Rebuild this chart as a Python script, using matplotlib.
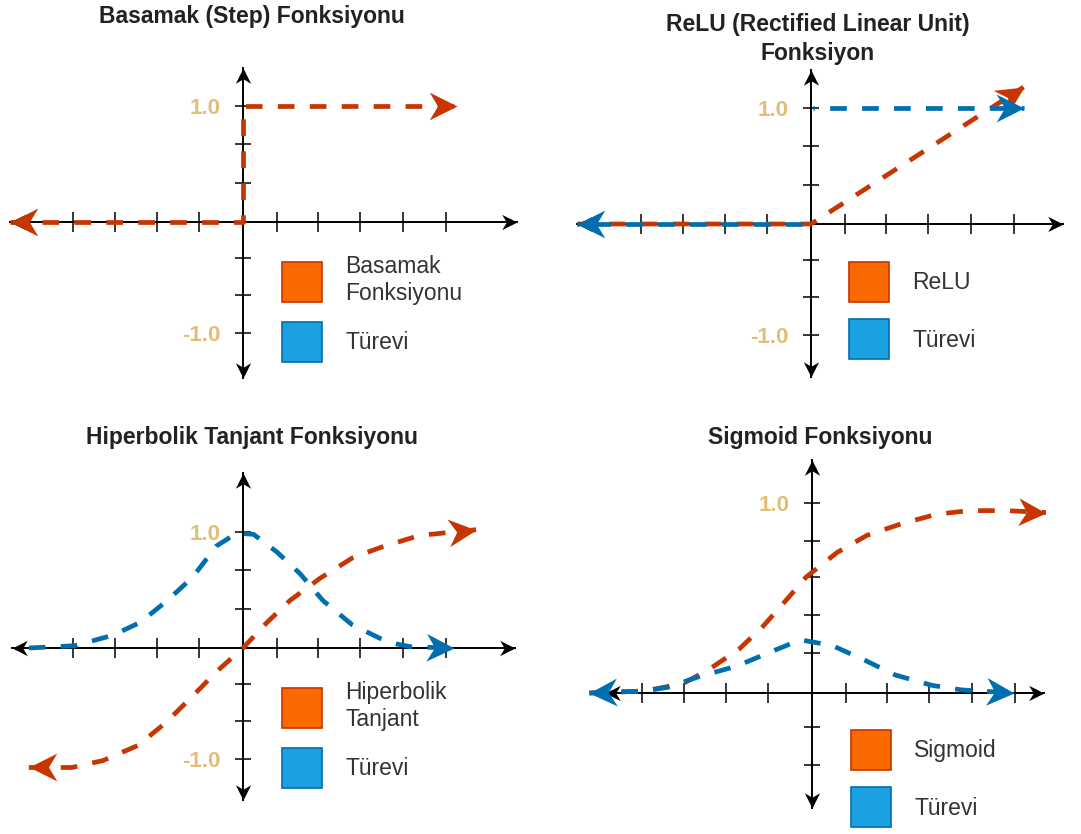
import numpy as np
import matplotlib
matplotlib.use('Agg')

from matplotlib import pyplot as plt
from matplotlib.markers import MarkerStyle
from matplotlib.path import Path
from matplotlib.patches import Patch
from matplotlib.transforms import Affine2D

plt.rcParams['font.family'] = ['Liberation Sans', 'DejaVu Sans']
plt.rcParams['lines.scale_dashes'] = False

W, H = 1081, 834
RED = '#c73500'
BLUE = '#006eaf'
ORANGE_FILL = '#fa6800'
BLUE_FILL = '#1ba1e2'
TAN = '#e2bd78'
TEXT = '#333333'

# --- data (x in tick units, y in function units) ---
x_ticks = [-4.05, -3.05, -2.05, -1.05, 0.8, 1.78, 2.78, 3.8, 4.83]
y_ticks = [-0.96, -0.63, -0.31, 0.34, 0.67, 1.0]
y_tick_labels = ['-1.0', '', '', '', '', '1.0']
sig_y_ticks = [-0.38, -0.18, 0.21, 0.41, 0.61, 0.8, 1.0]
sig_y_tick_labels = ['', '', '', '', '', '', '1.0']

step_x = [-5.55, 0, 0, 5.1]
step_y = [0, 0, 1.0, 1.0]

relu_x = [-5.57, 0, 5.06]
relu_y = [0, 0, 1.18]
relu_d_x = [-5.57, 0, np.nan, 0.05, 5.07]
relu_d_y = [0, 0, np.nan, 1.0, 1.0]

tanh_x = [-5.1, -4.07, -3.33, -2.5, -1.86, -1.24, -0.62, 0, 0.57, 1.12, 1.83, 2.62, 3.3, 4.2, 5.55]
tanh_y = [-1.03, -1.03, -0.97, -0.84, -0.65, -0.43, -0.2, 0, 0.22, 0.41, 0.6, 0.78, 0.87, 0.97, 1.02]
tanh_d_x = [-5.1, -4.0, -3.1, -2.45, -1.8, -1.2, -0.63, -0.15, 0.25, 0.8, 1.36, 1.9, 2.6, 3.45, 4.0, 5.02]
tanh_d_y = [0, 0.02, 0.11, 0.22, 0.41, 0.61, 0.88, 0.99, 0.98, 0.83, 0.64, 0.41, 0.2, 0.05, 0.01, 0]

sig_x = [-5.3, -4.0, -3.07, -2.48, -1.74, -1.17, -0.57, -0.14, 0.6, 1.31, 2.12, 2.95, 3.74, 4.6, 5.57]
sig_y = [0, 0.01, 0.05, 0.12, 0.23, 0.35, 0.5, 0.61, 0.74, 0.83, 0.89, 0.94, 0.96, 0.96, 0.95]
sig_d_x = [-5.3, -4.0, -3.43, -2.64, -1.81, -1.05, -0.28, 0.48, 1.28, 1.98, 2.86, 3.57, 4.8]
sig_d_y = [0, 0.01, 0.03, 0.09, 0.14, 0.21, 0.28, 0.25, 0.17, 0.095, 0.04, 0.016, 0]

fig = plt.figure(figsize=(W / 100, H / 100), dpi=100)

HEAD = Path([(0, 0), (-1, 0.5), (-0.7, 0), (-1, -0.5), (0, 0)],
            [Path.MOVETO, Path.LINETO, Path.LINETO, Path.LINETO, Path.CLOSEPOLY])


def head(ax, xs, ys, color, size=40, end=-1):
    # arrow head at the end of a line, pointing along its last segment on screen
    i = end
    j = end - 1 if end < 0 else end + 1
    p = ax.transData.transform([(xs[j], ys[j]), (xs[i], ys[i])])
    ang = np.degrees(np.arctan2(p[1, 1] - p[0, 1], p[1, 0] - p[0, 0]))
    m = MarkerStyle(HEAD, transform=Affine2D().rotate_deg(ang))
    ax.plot([xs[i]], [ys[i]], marker=m, ms=size, color=color, mec=color, mew=0,
            ls='none', clip_on=False, zorder=6)


def dashed(ax, xs, ys, color, offset=0):
    ax.plot(xs, ys, color=color, lw=3.4, ls=(offset, (12, 11)),
            dash_capstyle='butt', solid_joinstyle='round', zorder=4)


def panel(box, origin, sy, xb, yb, yt, ylabels):
    x0, y0, x1, y1 = box
    ox, oy = origin
    sx = 42.0
    ax = fig.add_axes([x0 / W, 1 - y1 / H, (x1 - x0) / W, (y1 - y0) / H])
    ax.set_xlim((x0 - ox) / sx, (x1 - ox) / sx)
    ax.set_ylim((oy - y1) / sy, (oy - y0) / sy)
    ax.patch.set_visible(False)
    for s in ['top', 'right']:
        ax.spines[s].set_visible(False)
    ax.spines['left'].set_position(('data', 0))
    ax.spines['bottom'].set_position(('data', 0))
    ax.spines['bottom'].set_bounds(*xb)
    ax.spines['left'].set_bounds(*yb)
    for s in ['left', 'bottom']:
        ax.spines[s].set_linewidth(1.4)
    ax.set_xticks(x_ticks)
    ax.set_xticklabels([])
    ax.set_yticks(yt)
    ax.set_yticklabels(ylabels)
    ax.tick_params(axis='x', direction='inout', length=14, width=1.1)
    ax.tick_params(axis='y', direction='inout', length=12, width=1.1,
                   labelsize=16, labelcolor=TAN, pad=10)
    for lab in ax.get_yticklabels():
        lab.set_fontweight('bold')
    # axis arrows
    head(ax, [0, xb[1]], [0, 0], 'black', 22)
    head(ax, [0, xb[0]], [0, 0], 'black', 22)
    head(ax, [0, 0], [0, yb[1]], 'black', 22)
    head(ax, [0, 0], [0, yb[0]], 'black', 22)
    return ax


def legend(ax, labels, anchor):
    handles = [Patch(facecolor=ORANGE_FILL, edgecolor=RED, lw=1.2, label=labels[0]),
               Patch(facecolor=BLUE_FILL, edgecolor=BLUE, lw=1.2, label=labels[1])]
    ax.legend(handles=handles, loc='upper left', bbox_to_anchor=anchor, frameon=False,
              fontsize=16.5, handlelength=1.75, handleheight=2.31, handletextpad=1.0,
              labelspacing=0.76, borderpad=0, borderaxespad=0, labelcolor=TEXT)


# Basamak (Step)
ax1 = panel((0, 0, 540, 417), (243, 222), 116, (-5.55, 6.52), (-1.345, 1.33), y_ticks, y_tick_labels)
dashed(ax1, step_x, step_y, RED)
head(ax1, step_x, step_y, RED)
head(ax1, step_x, step_y, RED, end=0)
legend(ax1, ['Basamak\nFonksiyonu', 'Türevi'], (282 / 540, 1 - 255 / 417))
fig.text(252 / W, 1 - 17 / H, 'Basamak (Step) Fonksiyonu', ha='center', va='center',
         fontsize=16.5, fontweight='bold', color='#222222')

# ReLU
ax2 = panel((540, 0, 1081, 417), (811, 224), 116, (-5.57, 6.0), (-1.32, 1.33), y_ticks, y_tick_labels)
dashed(ax2, relu_x, relu_y, RED)
head(ax2, relu_x, relu_y, RED)
dashed(ax2, relu_d_x, relu_d_y, BLUE, offset=11)
head(ax2, relu_d_x, relu_d_y, BLUE)
head(ax2, relu_d_x, relu_d_y, BLUE, end=0)
legend(ax2, ['ReLU', 'Türevi'], (309 / 541, 1 - 262 / 417))
fig.text(818 / W, 1 - 39 / H, 'ReLU (Rectified Linear Unit)\nFonksiyon', ha='center', va='center',
         fontsize=16.5, fontweight='bold', color='#222222', linespacing=1.3)

# Hiperbolik Tanjant
ax3 = panel((0, 417, 540, 834), (243, 648), 116, (-5.5, 6.48), (-1.31, 1.51), y_ticks, y_tick_labels)
dashed(ax3, tanh_x, tanh_y, RED)
head(ax3, tanh_x, tanh_y, RED)
head(ax3, tanh_x, tanh_y, RED, end=0)
dashed(ax3, tanh_d_x, tanh_d_y, BLUE)
head(ax3, tanh_d_x, tanh_d_y, BLUE)
legend(ax3, ['Hiperbolik\nTanjant', 'Türevi'], (282 / 540, 1 - 264 / 417))
fig.text(252 / W, 1 - 438 / H, 'Hiperbolik Tanjant Fonksiyonu', ha='center', va='center',
         fontsize=16.5, fontweight='bold', color='#222222')

# Sigmoid
ax4 = panel((540, 417, 1081, 834), (812, 693), 190, (-4.93, 5.52), (-0.605, 1.226), sig_y_ticks, sig_y_tick_labels)
dashed(ax4, sig_x, sig_y, RED)
head(ax4, sig_x, sig_y, RED)
dashed(ax4, sig_d_x, sig_d_y, BLUE)
head(ax4, sig_d_x, sig_d_y, BLUE)
head(ax4, sig_d_x, sig_d_y, BLUE, end=0)
legend(ax4, ['Sigmoid', 'Türevi'], (311 / 541, 1 - 313 / 417))
fig.text(820 / W, 1 - 438 / H, 'Sigmoid Fonksiyonu', ha='center', va='center',
         fontsize=16.5, fontweight='bold', color='#222222')

fig.savefig('out.png', dpi=100, facecolor='white')
